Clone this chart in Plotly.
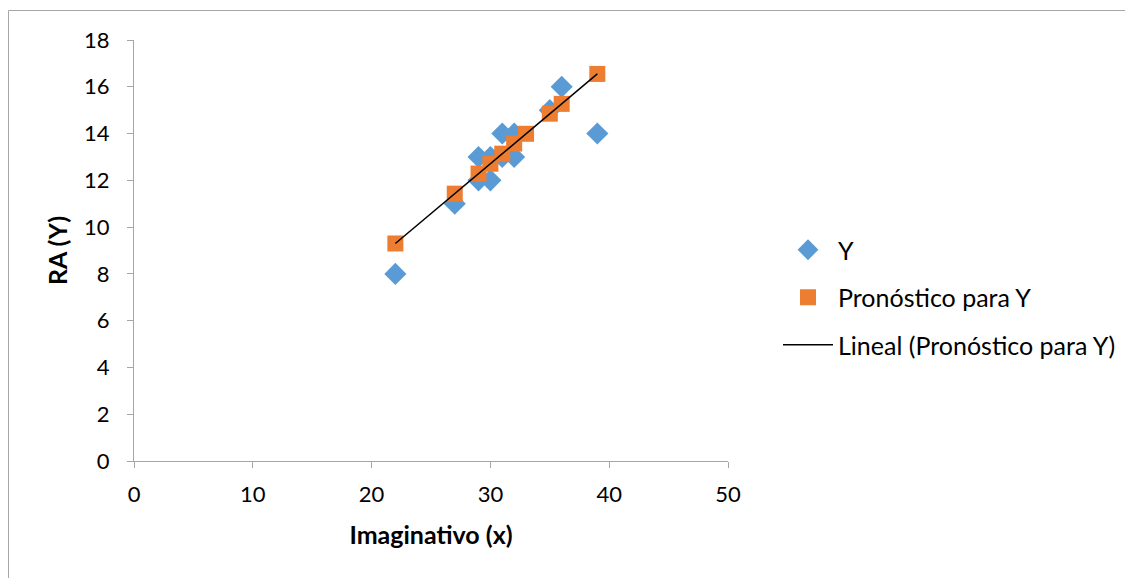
import plotly.graph_objects as go

# Observed data
x_obs = [22, 27, 29, 29, 30, 30, 31, 31, 32, 32, 35, 36, 39]
y_obs = [8, 11, 13, 12, 12, 13, 14, 13, 14, 13, 15, 16, 14]

# Forecast ("Pronóstico para Y")
x_pred = [22, 27, 29, 30, 31, 32, 33, 35, 36, 39]
y_pred = [9.30, 11.43, 12.29, 12.71, 13.14, 13.57, 13.99, 14.85, 15.27, 16.55]

# Linear trendline endpoints
x_line = [22, 39]
y_line = [9.30, 16.55]

FONT = "Lato"
OFF = 8  # page body margin
W, H = 1125, 570
L, T = 134 - OFF, 40 - OFF
pw, ph = 594, 421
R, B = W - L - pw, H - T - ph

fig = go.Figure()
fig.add_trace(go.Scatter(
    x=x_obs, y=y_obs, mode="markers", name="Y", legendgroup="a",
    marker=dict(symbol="diamond", size=17, color="#5B9BD5", line=dict(width=0)),
))
fig.add_trace(go.Scatter(
    x=x_pred, y=y_pred, mode="markers", name="Pronóstico para Y", legendgroup="b",
    marker=dict(symbol="square", size=16, color="#ED7D31", line=dict(width=0)),
))
fig.add_trace(go.Scatter(
    x=x_line, y=y_line, mode="lines", name="Lineal (Pronóstico para Y)", legendgroup="c",
    line=dict(color="black", width=1.5),
))

def px2paper_x(px):
    return (px - OFF - L) / pw

def px2paper_y(py):
    return (T + ph - (py - OFF)) / ph

fig.update_layout(
    width=W, height=H,
    margin=dict(l=L, r=R, t=T, b=B, pad=0),
    paper_bgcolor="white", plot_bgcolor="white",
    font=dict(family=FONT, size=22, color="black"),
    showlegend=True,
    legend=dict(
        x=px2paper_x(778), y=px2paper_y(227), xanchor="left", yanchor="top",
        font=dict(family=FONT, size=25, color="black"),
        itemwidth=50, tracegroupgap=12,
        bgcolor="rgba(0,0,0,0)",
    ),
    xaxis=dict(
        range=[0, 50], tickvals=[0, 10, 20, 30, 40, 50],
        showgrid=False, zeroline=False,
        showline=True, linecolor="#A6A6A6", linewidth=1,
        ticks="outside", ticklen=6, tickcolor="#A6A6A6",
        ticklabelstandoff=8,
        tickfont=dict(family=FONT, size=22),
        title=dict(text="<b>Imaginativo (x)</b>", font=dict(family=FONT, size=25), standoff=20),
    ),
    yaxis=dict(
        range=[0, 18], tickvals=[0, 2, 4, 6, 8, 10, 12, 14, 16, 18],
        showgrid=False, zeroline=False,
        showline=True, linecolor="#A6A6A6", linewidth=1,
        ticks="outside", ticklen=6, tickcolor="#A6A6A6",
        ticklabelstandoff=13,
        tickfont=dict(family=FONT, size=22),
        title=dict(text="<b>RA (Y)</b>", font=dict(family=FONT, size=25), standoff=9),
    ),
    shapes=[dict(
        type="rect", xref="paper", yref="paper",
        x0=px2paper_x(8.5), y0=px2paper_y(620), x1=px2paper_x(1180), y1=px2paper_y(10.5),
        line=dict(color="#A6A6A6", width=1), fillcolor="rgba(0,0,0,0)", layer="below",
    )],
)

fig.write_html("out.html")
